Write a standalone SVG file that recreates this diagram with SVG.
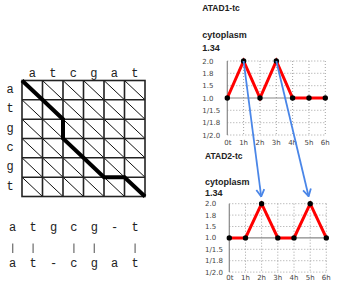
<svg xmlns="http://www.w3.org/2000/svg" width="339" height="287" viewBox="0 0 339 287">
<style>
.mono{font-family:"Liberation Mono","DejaVu Sans Mono",monospace;font-size:12px;fill:#222;text-anchor:middle}
.grid{stroke:#222;stroke-width:1.6;fill:none}
.diag{stroke:#111;stroke-width:1}
.path{stroke:#000;stroke-width:4;fill:none;stroke-linejoin:miter}
.bar{stroke:#777;stroke-width:1.3}
.title{font-family:"Liberation Sans",Arial,sans-serif;font-weight:bold;fill:#222}
.tick{font-family:"DejaVu Sans",Verdana,sans-serif;font-size:7px;fill:#444}
.xt{font-family:"DejaVu Sans",Verdana,sans-serif;font-size:7px;fill:#444;text-anchor:middle}
.dot{stroke:#999;stroke-width:0.9;stroke-dasharray:1 2;fill:none}
.axis{stroke:#888;stroke-width:1.2;fill:none}
.red{stroke:#ff0000;stroke-width:3;fill:none;stroke-linejoin:miter}
.pt{fill:#000}
.arrow{stroke:#4a86e8;stroke-width:1.8;fill:none;marker-end:url(#ah)}
</style>
<defs>
<marker id="ah" markerUnits="userSpaceOnUse" viewBox="-9 -5 10 10" markerWidth="10" markerHeight="10" refX="0" refY="0" orient="auto">
<path d="M-7,-4 L0,0 L-7,4" fill="none" stroke="#4a86e8" stroke-width="1.8"/>
</marker>
</defs>
<rect width="339" height="287" fill="#fff"/>

<g id="dotplot">
<g class="mono">
<text x="32.25" y="76.5">a</text><text x="52.75" y="76.5">t</text><text x="73.25" y="76.5">c</text><text x="93.75" y="76.5">g</text><text x="114.25" y="76.5">a</text><text x="134.75" y="76.5">t</text>
<text x="10" y="93">a</text><text x="10" y="112.3">t</text><text x="10" y="131.6">g</text><text x="10" y="151">c</text><text x="10" y="170.3">g</text><text x="10" y="189.6">t</text>
</g>
<g class="diag">
<path d="M22,80.5 L145,196.5"/>
<path d="M42.5,80.5 L145,177.2 M63,80.5 L145,157.8 M83.5,80.5 L145,138.5 M104,80.5 L145,119.2 M124.5,80.5 L145,99.8"/>
<path d="M22,99.8 L124.5,196.5 M22,119.2 L104,196.5 M22,138.5 L83.5,196.5 M22,157.8 L63,196.5 M22,177.2 L42.5,196.5"/>
</g>
<g class="grid">
<rect x="22" y="80.5" width="123" height="116"/>
<path d="M42.5,80.5V196.5 M63,80.5V196.5 M83.5,80.5V196.5 M104,80.5V196.5 M124.5,80.5V196.5"/>
<path d="M22,99.8H145 M22,119.2H145 M22,138.5H145 M22,157.8H145 M22,177.2H145"/>
</g>
<path class="path" d="M22,80.5 L42.5,99.8 L63,119.2 L63,138.5 L83.5,157.8 L104,177.2 L124.5,177.2 L145,196.5"/>
</g>

<g id="alignment">
<g class="mono">
<text x="12.7" y="230.5">a</text><text x="33.1" y="230.5">t</text><text x="53.5" y="230.5">g</text><text x="73.9" y="230.5">c</text><text x="94.3" y="230.5">g</text><text x="114.7" y="230.5">-</text><text x="135.1" y="230.5">t</text>
<text x="12.7" y="266.5">a</text><text x="33.1" y="266.5">t</text><text x="53.5" y="266.5">-</text><text x="73.9" y="266.5">c</text><text x="94.3" y="266.5">g</text><text x="114.7" y="266.5">a</text><text x="135.1" y="266.5">t</text>
</g>
<path class="bar" d="M12.7,243.5V253 M33.1,243.5V253 M73.9,243.5V253 M94.3,243.5V253 M135.1,243.5V253"/>
</g>

<g id="chart1">
<text class="title" x="202.3" y="11.2" font-size="8.5">ATAD1-tc</text>
<text class="title" x="202.3" y="38" font-size="9">cytoplasm</text>
<text class="title" x="202.3" y="51.2" font-size="9">1.34</text>
<g class="tick">
<text x="202.3" y="63.5">2.0</text><text x="202.3" y="75.8">1.8</text><text x="202.3" y="88.2">1.5</text><text x="202.3" y="100.5">1.0</text><text x="202.3" y="112.8">1/1.5</text><text x="202.3" y="125.2">1/1.8</text><text x="202.3" y="137.5">1/2.0</text>
</g>
<path class="dot" d="M227.3,61H325.3 M227.3,73.3H325.3 M227.3,85.7H325.3 M227.3,110.3H325.3 M227.3,122.7H325.3 M227.3,135H325.3"/>
<path class="dot" d="M243.6,61V135 M260,61V135 M276.3,61V135 M292.6,61V135 M309,61V135 M325.3,61V135"/>
<path class="axis" d="M227.3,61V135 M227.3,98H325.3"/>
<path class="red" d="M227.3,98 L243.6,61 L260,98 L276.3,61 L292.6,98 L309,98 L325.3,98"/>
<g class="pt">
<circle cx="227.3" cy="98" r="2.7"/><circle cx="243.6" cy="61" r="2.7"/><circle cx="260" cy="98" r="2.7"/><circle cx="276.3" cy="61" r="2.7"/><circle cx="292.6" cy="98" r="2.7"/><circle cx="309" cy="98" r="2.7"/><circle cx="325.3" cy="98" r="2.7"/>
</g>
<g class="xt">
<text x="227.8" y="145">0t</text><text x="243.6" y="145">1h</text><text x="260" y="145">2h</text><text x="276.3" y="145">3h</text><text x="292.6" y="145">4h</text><text x="309" y="145">5h</text><text x="325.3" y="145">6h</text>
</g>
</g>

<g id="chart2">
<text class="title" x="205" y="158.7" font-size="8.5">ATAD2-tc</text>
<text class="title" x="205" y="184.5" font-size="9">cytoplasm</text>
<text class="title" x="205" y="195.7" font-size="9">1.34</text>
<g class="tick">
<text x="205" y="206.2">2.0</text><text x="205" y="217.6">1.8</text><text x="205" y="229">1.5</text><text x="205" y="240.4">1.0</text><text x="205" y="251.8">1/1.5</text><text x="205" y="263.2">1/1.8</text><text x="205" y="274.6">1/2.0</text>
</g>
<path class="dot" d="M229.3,203.7H326.3 M229.3,215.1H326.3 M229.3,226.5H326.3 M229.3,249.3H326.3 M229.3,260.7H326.3 M229.3,272.1H326.3"/>
<path class="dot" d="M245.5,203.7V272.1 M261.6,203.7V272.1 M277.8,203.7V272.1 M294,203.7V272.1 M310.2,203.7V272.1 M326.3,203.7V272.1"/>
<path class="axis" d="M229.3,203.7V272.1 M229.3,237.9H326.3"/>
<path class="red" d="M229.3,237.9 L245.5,237.9 L261.6,203.7 L277.8,237.9 L294,237.9 L310.2,203.7 L326.3,237.9"/>
<g class="pt">
<circle cx="229.3" cy="237.9" r="2.7"/><circle cx="245.5" cy="237.9" r="2.7"/><circle cx="261.6" cy="203.7" r="2.7"/><circle cx="277.8" cy="237.9" r="2.7"/><circle cx="294" cy="237.9" r="2.7"/><circle cx="310.2" cy="203.7" r="2.7"/><circle cx="326.3" cy="237.9" r="2.7"/>
</g>
<g class="xt">
<text x="229.8" y="279.5">0t</text><text x="245.5" y="279.5">1h</text><text x="261.6" y="279.5">2h</text><text x="277.8" y="279.5">3h</text><text x="294" y="279.5">4h</text><text x="310.2" y="279.5">5h</text><text x="326.3" y="279.5">6h</text>
</g>
</g>

<g id="connectors">
<path class="arrow" d="M243.6,61 L261.2,196.5"/>
<path class="arrow" d="M276.3,61 L308.6,196.3"/>
</g>
</svg>
